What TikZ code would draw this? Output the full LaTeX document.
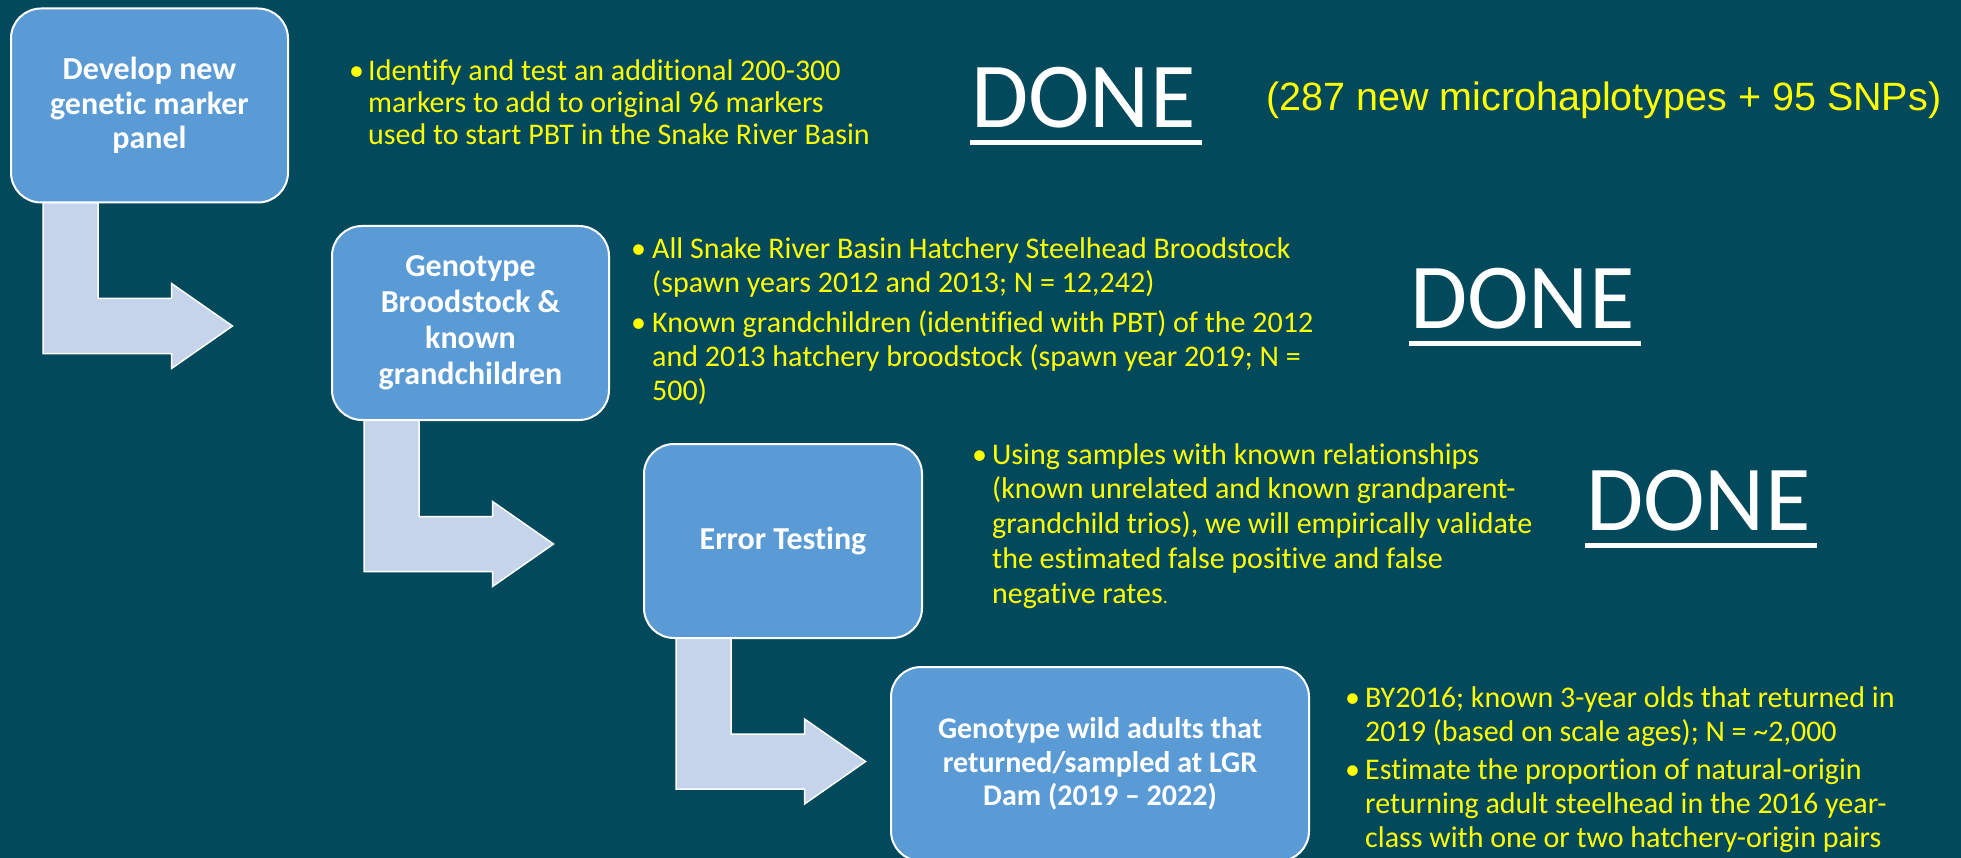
\documentclass[tikz,border=0pt]{standalone}
\usepackage{fontspec}
\setmainfont{Carlito}[Ligatures=NoCommon]
\newfontfamily\arialfont{Liberation Sans}
\usetikzlibrary{calc}
\pgfdeclarelayer{bglayer}
\pgfdeclarelayer{arrowlayer}
\pgfsetlayers{bglayer,arrowlayer,main}
\definecolor{bgteal}{RGB}{3,73,92}
\definecolor{boxblue}{RGB}{91,155,213}
\definecolor{arrowblue}{RGB}{197,212,234}
\definecolor{txtyellow}{RGB}{255,255,0}
\tikzset{
  stepbox/.style={draw=white, line width=2pt, fill=boxblue, rounded corners=30pt,
    inner sep=0pt, outer sep=0pt, text=white, align=center, minimum height=194pt},
  bentarrow/.style={draw=white, line width=1.5pt, fill=arrowblue, line join=miter},
  bullettext/.style={text=txtyellow, inner sep=0pt, anchor=base west},
  donetext/.style={text=white, inner sep=0pt, anchor=base west, font=\fontsize{93}{100}\selectfont},
  doneline/.style={draw=white, line width=5pt},
}
\newcommand{\drawbent}[3]{%
  \draw[bentarrow] let \p1=($(#1.south west)+(32,0)$), \p2=($(#2.center)+(0,#3)$) in
    (\x1,\y1) -- (\x1,\y2-27.5pt) -- (\x1+128.5pt,\y2-27.5pt) -- (\x1+128.5pt,\y2-42.5pt)
    -- (\x1+189.5pt,\y2) -- (\x1+128.5pt,\y2+42.5pt) -- (\x1+128.5pt,\y2+27.5pt)
    -- (\x1+55pt,\y2+27.5pt) -- (\x1+55pt,\y1) -- cycle;}
\begin{document}
\begin{tikzpicture}[x=1pt,y=-1pt]
\useasboundingbox (0,0) rectangle (1961,858);
\clip (0,0) rectangle (1961,858);
\begin{pgfonlayer}{bglayer}
\fill[bgteal] (0,0) rectangle (1961,858);
\end{pgfonlayer}

% boxes
\node[stepbox, minimum width=277pt, font=\bfseries\fontsize{32}{34.5}\selectfont] (b1) at (149.5,105.5) {Develop new\\genetic marker\\panel};
\node[stepbox, minimum width=277pt, font=\bfseries\fontsize{32}{36}\selectfont] (b2) at (470.5,323) {Genotype\\Broodstock \&\\known\\grandchildren};
\node[stepbox, minimum width=278pt, font=\bfseries\fontsize{32}{36}\selectfont] (b3) at (783,541) {Error Testing};
\node[stepbox, minimum width=418pt, font=\bfseries\fontsize{30}{33.5}\selectfont] (b4) at (1100,764) {Genotype wild adults that\\returned/sampled at LGR\\Dam (2019 – 2022)};

% bent arrows
\begin{pgfonlayer}{arrowlayer}
\drawbent{b1}{b2}{3}
\drawbent{b2}{b3}{3}
\drawbent{b3}{b4}{-2.5}
\end{pgfonlayer}

% bullet texts
\node[bullettext, font=\fontsize{30}{32}\selectfont] (u1) at (349,81) {•};
\node[bullettext, font=\fontsize{30}{32}\selectfont] (t1) at (368,81) {\parbox[t]{600pt}{Identify and test an additional 200-300\\markers to add to original 96 markers\\used to start PBT in the Snake River Basin}};

\node[bullettext, font=\fontsize{30}{34}\selectfont] (u2a) at (631,259) {•};
\node[bullettext, font=\fontsize{30}{34}\selectfont] (u2b) at (631,333) {•};
\node[bullettext, font=\fontsize{30}{34}\selectfont] (t2) at (652,259) {\parbox[t]{800pt}{All Snake River Basin Hatchery Steelhead Broodstock\\(spawn years 2012 and 2013; N = 12,242)\\[6pt]Known grandchildren (identified with PBT) of the 2012\\and 2013 hatchery broodstock (spawn year 2019; N =\\500)}};

\node[bullettext, font=\fontsize{30}{34.75}\selectfont] (u3) at (972,464) {•};
\node[bullettext, font=\fontsize{30}{34.75}\selectfont] (t3) at (992,464) {\parbox[t]{600pt}{Using samples with known relationships\\(known unrelated and known grandparent-\\grandchild trios), we will empirically validate\\the estimated false positive and false\\negative rates{\fontsize{20}{20}\selectfont.}}};

\node[bullettext, font=\fontsize{30}{34}\selectfont] (u4a) at (1345,707) {•};
\node[bullettext, font=\fontsize{30}{34}\selectfont] (u4b) at (1345,779) {•};
\node[bullettext, font=\fontsize{30}{34}\selectfont] (t4) at (1365,707) {\parbox[t]{600pt}{BY2016; known 3-year olds that returned in\\2019 (based on scale ages); N = \textasciitilde2,000\\[4pt]Estimate the proportion of natural-origin\\returning adult steelhead in the 2016 year-\\class with one or two hatchery-origin pairs}};

% DONE labels
\node[donetext] (d1) at (971,128) {DONE};
\draw[doneline] ($(d1.base west)+(-1,15)$) -- ($(d1.base east)+(6,15)$);
\node[donetext] (d2) at (1410,328) {DONE};
\draw[doneline] ($(d2.base west)+(-1,15)$) -- ($(d2.base east)+(6,15)$);
\node[donetext] (d3) at (1586,530) {DONE};
\draw[doneline] ($(d3.base west)+(-1,15)$) -- ($(d3.base east)+(6,15)$);

\node[text=txtyellow, inner sep=0pt, anchor=base west, font=\arialfont\fontsize{39.5}{44}\selectfont] (snps) at (1266,111) {(287 new microhaplotypes + 95 SNPs)};
\end{tikzpicture}
\end{document}
